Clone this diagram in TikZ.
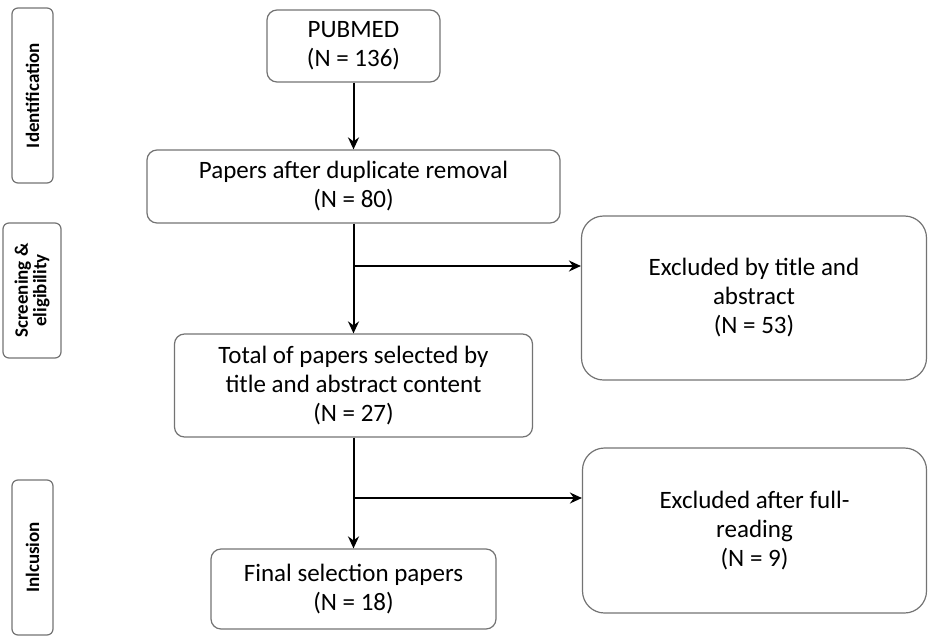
\documentclass[tikz,border=0pt]{standalone}
\usepackage{fontspec}
\setmainfont{Carlito}
\usetikzlibrary{arrows.meta}

\begin{document}
\begin{tikzpicture}[x=1pt,y=-1pt,
    box/.style={draw=black!55, line width=1.2pt, rounded corners=10pt, align=center,
        inner sep=0pt, font=\fontsize{25}{29}\selectfont},
    sidebox/.style={box, rounded corners=22pt},
    stage/.style={draw=black!55, line width=1.2pt, rounded corners=6pt, rotate=90,
        align=center, inner sep=0pt, font=\fontsize{19}{18.5}\selectfont\bfseries},
    flow/.style={-{Stealth[length=12pt,width=11pt,inset=4pt]}, line width=2pt}]
    \useasboundingbox (0,0) rectangle (928,637);

    % stages
    \node[stage, minimum width=175pt, minimum height=41pt] (ident) at (32.5,95.5) {Identification};
    \node[stage, minimum width=135pt, minimum height=58pt] (screen) at (32,290.5) {Screening \&\\eligibility};
    \node[stage, minimum width=155pt, minimum height=41pt] (incl) at (32.5,557.5) {Inlcusion};

    % main flow
    \node[box, minimum width=173pt, minimum height=72pt] (pubmed) at (353.5,46) {PUBMED\\(N = 136)};
    \node[box, minimum width=413pt, minimum height=73pt] (papers) at (353.5,186.5) {Papers after duplicate removal\\(N = 80)};
    \node[box, minimum width=358pt, minimum height=103pt] (total) at (353.5,385.5) {Total of papers selected by\\title and abstract content\\(N = 27)};
    \node[box, minimum width=285pt, minimum height=80pt] (final) at (353.5,589) {Final selection papers\\(N = 18)};

    % exclusions
    \node[sidebox, minimum width=345pt, minimum height=164pt] (excl1) at (754,298) {Excluded by title and\\abstract\\(N = 53)};
    \node[sidebox, minimum width=344pt, minimum height=165pt] (excl2) at (754.5,530.5) {Excluded after full-\\reading\\(N = 9)};

    \draw[flow] (pubmed.south) -- (papers.north);
    \draw[flow] (papers.south) -- (total.north);
    \draw[flow] (total.south) -- (final.north);

    \coordinate (cut1) at (353.5,266);
    \coordinate (cut2) at (353.5,498);
    \draw[flow] (cut1) -- (cut1 -| excl1.west);
    \draw[flow] (cut2) -- (cut2 -| excl2.west);
\end{tikzpicture}
\end{document}
